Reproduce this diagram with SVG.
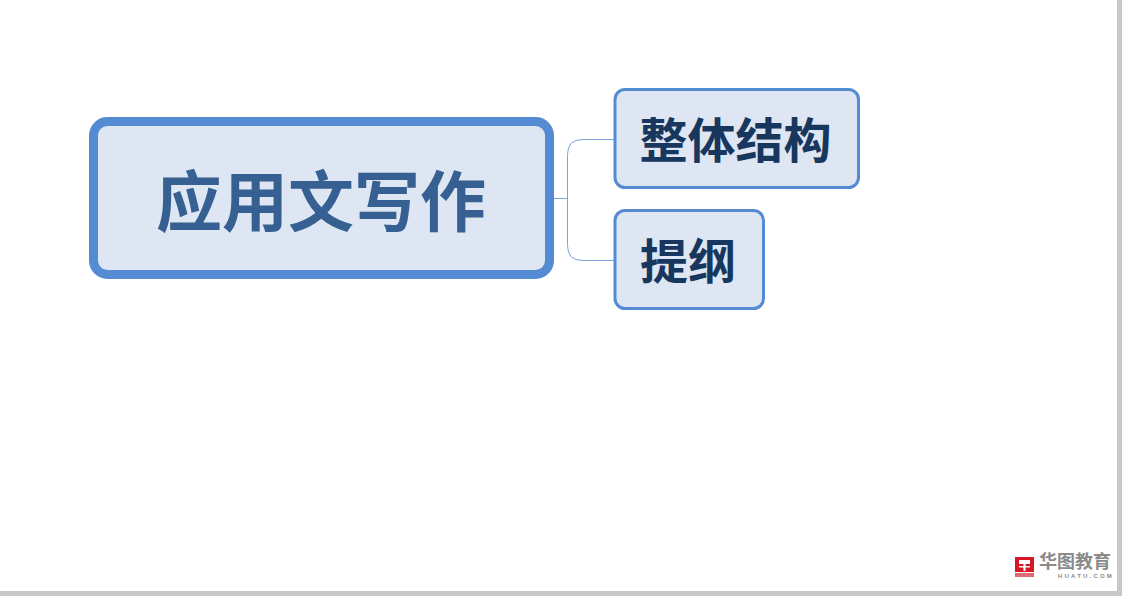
<svg xmlns="http://www.w3.org/2000/svg" width="1122" height="596" viewBox="0 0 1122 596">
<style>
.box{fill:#dde6f2;stroke:#548bd3}
.t{font-family:"Noto Sans CJK SC","Liberation Sans",sans-serif;font-weight:700;text-anchor:middle}
.sub{font-size:48px;fill:#17375e}
.link{fill:none;stroke:#7ba4da;stroke-width:1}
</style>
<rect width="1122" height="596" fill="#fff"/>
<rect x="1117" y="0" width="5" height="596" fill="#c8c8c8"/>
<rect x="0" y="591" width="1122" height="5" fill="#c8c8c8"/>
<g id="connectors">
<path class="link" d="M554 198.500H567.500"/>
<path class="link" d="M614 139.500H582.500Q567.500 139.500 567.500 154.500V245.500Q567.500 260.500 582.500 260.500H614"/>
</g>
<g id="node-root">
<rect class="box" x="93.500" y="121.500" width="456" height="153" rx="14" stroke-width="9"/>
<text class="t" x="321" y="226" font-size="66" fill="#366092">应用文写作</text>
</g>
<g id="node-structure">
<rect class="box" x="615" y="89.500" width="243.500" height="98" rx="10" stroke-width="3"/>
<text class="t sub" x="735.500" y="158">整体结构</text>
</g>
<g id="node-outline">
<rect class="box" x="615" y="210.500" width="148.500" height="98" rx="10" stroke-width="3"/>
<text class="t sub" x="688" y="279">提纲</text>
</g>
<g id="logo">
<rect x="1015" y="557" width="19" height="15" fill="#d9152a"/>
<rect x="1015" y="573" width="19" height="4" fill="#e06a72"/>
<path d="M1019 560h4.500v4h-4.500zM1025.500 560h4.500v4h-4.500zM1019 566h11v1.500h-11zM1023.500 560h2v11h-2z" fill="#fff"/>
<text x="1039" y="568" font-family="'Noto Sans CJK SC',sans-serif" font-weight="700" font-size="18" fill="#8a8a8a">华图教育</text>
<text x="1058" y="578" font-family="'Liberation Sans',sans-serif" font-weight="700" font-size="6" letter-spacing="2.200" fill="#8a8a8a">HUATU.COM</text>
</g>
</svg>
